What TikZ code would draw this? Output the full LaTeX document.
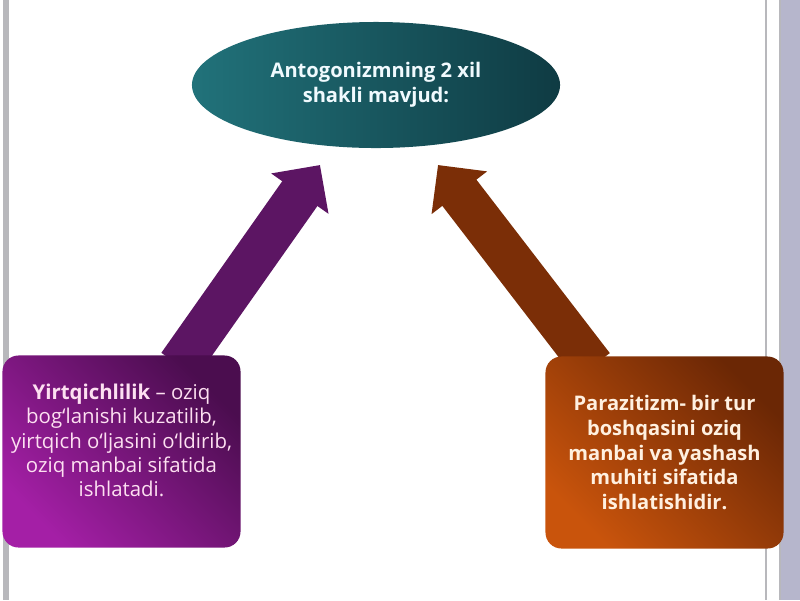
\documentclass[tikz,border=0pt]{standalone}
\usepackage{fontspec}
\setmainfont{Open Sans}
\usetikzlibrary{shapes.geometric,arrows.meta,backgrounds,calc}

\definecolor{goalL}{HTML}{21727A}
\definecolor{goalR}{HTML}{0F3B43}
\definecolor{predB}{HTML}{A41FA6}
\definecolor{predT}{HTML}{4B0D4F}
\definecolor{predA}{HTML}{5C1563}
\definecolor{parasB}{HTML}{C9540C}
\definecolor{parasT}{HTML}{6B2705}
\definecolor{parasA}{HTML}{7B2E07}
\definecolor{frameG}{HTML}{B8B8BC}
\definecolor{frameB}{HTML}{B6B6CC}

\tikzset{
  txt/.style={align=center, font=\fontsize{14.3}{17.5}\selectfont\bfseries},
  box/.style={rounded corners=0.4cm, inner sep=0pt,
    minimum width=5.95cm, minimum height=4.8cm, shading angle=-45},
  bigarrow/.style={line width=1.075cm, -{Triangle[width=1.7cm,length=0.875cm]}}
}

\begin{document}
\begin{tikzpicture}[x=0.025cm,y=-0.025cm]

    \useasboundingbox (0,0) rectangle (800,600);

    \node[ellipse, txt, inner sep=0pt, minimum width=9.2cm, minimum height=3.15cm,
      left color=goalL, right color=goalR, text=cyan!6]
      (goal) at (376,85) {Antogonizmning 2 xil\\ shakli mavjud:};

    \node[box, top color=predT, bottom color=predB, shading angle=-45]
      (pred) at (121.5,451.5) {};
    \node[txt, text=magenta!12, font=\fontsize{14.5}{17.3}\selectfont]
      (predtext) at ($(pred.center)+(0,-11)$)
      {\textbf{Yirtqichlilik} – oziq\\ bog‘lanishi kuzatilib,\\ yirtqich o‘ljasini o‘ldirib,\\ oziq manbai sifatida\\ ishlatadi.};

    \node[box, txt, top color=parasT, bottom color=parasB, shading angle=-45, text=orange!12]
      (paras) at (664.5,452.5)
      {Parazitizm- bir tur\\ boshqasini oziq\\ manbai va yashash\\ muhiti sifatida\\ ishlatishidir.};

    \coordinate (tipL) at (320,165);
    \coordinate (tipR) at (438,165);

    \begin{scope}[on background layer]
      \fill[frameG] (3,0) rectangle (9,600);
      \fill[frameG] (765,0) rectangle (767,600);
      \fill[frameG] (779,0) rectangle (781,600);
      \fill[frameB] (781,0) rectangle (800,600);
      \draw[bigarrow, predA] ($(pred.north west)!0.77!(pred.north east)+(-7,10)$) -- (tipL);
      \draw[bigarrow, parasA] ($(paras.north west)!0.17!(paras.north east)+(7,10)$) -- (tipR);
    \end{scope}

\end{tikzpicture}
\end{document}
